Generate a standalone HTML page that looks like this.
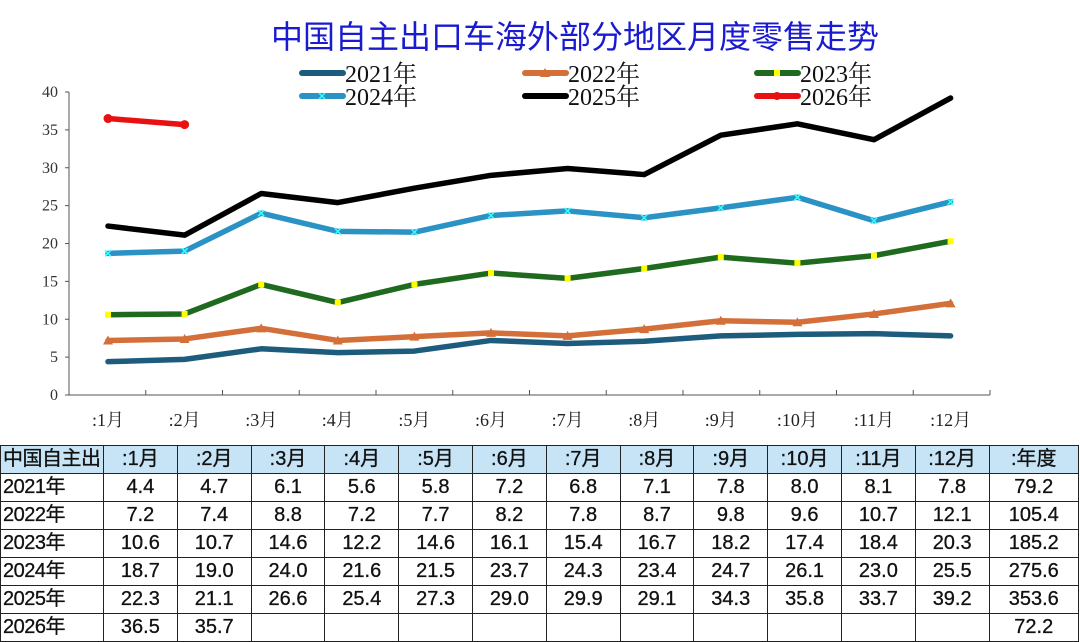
<!DOCTYPE html>
<html><head><meta charset="utf-8"><style>
body{margin:0;background:#fff;width:1080px;height:641px;overflow:hidden;position:relative}
svg{position:absolute;left:0;top:0}
table{position:absolute;left:0;top:445px;width:1078px;table-layout:fixed;border-collapse:collapse;font-family:"Liberation Sans","Noto Sans CJK SC",sans-serif;font-size:20px;color:#111;-webkit-text-stroke:0.3px #111}
td{border:1px solid #222;height:27.9px;padding:0;text-align:center;line-height:27px;box-sizing:border-box;white-space:nowrap;overflow:hidden}
tr.h td{background:#c6e4f6}
td.f{text-align:left;padding-left:2px;letter-spacing:-0.5px}
</style></head><body>
<svg id="s" width="1080" height="445" xmlns="http://www.w3.org/2000/svg"></svg>
<table id="t"></table>
<script>
var d={
"2021":[4.4,4.7,6.1,5.6,5.8,7.2,6.8,7.1,7.8,8.0,8.1,7.8,79.2],
"2022":[7.2,7.4,8.8,7.2,7.7,8.2,7.8,8.7,9.8,9.6,10.7,12.1,105.4],
"2023":[10.6,10.7,14.6,12.2,14.6,16.1,15.4,16.7,18.2,17.4,18.4,20.3,185.2],
"2024":[18.7,19.0,24.0,21.6,21.5,23.7,24.3,23.4,24.7,26.1,23.0,25.5,275.6],
"2025":[22.3,21.1,26.6,25.4,27.3,29.0,29.9,29.1,34.3,35.8,33.7,39.2,353.6],
"2026":[36.5,35.7,null,null,null,null,null,null,null,null,null,null,72.2]};
var col={"2021":"#1d5c7c","2022":"#d46f3a","2023":"#1f6a1f","2024":"#2a92c4","2025":"#000","2026":"#e81010"};
var s='';
var X=function(i){return 108+i*76.6},Y=function(v){return 395-v*7.575};
s+='<text x="575" y="48" text-anchor="middle" font-family="Liberation Sans,Noto Sans CJK SC,sans-serif" font-size="32" fill="#1a1ad0">中国自主出口车海外部分地区月度零售走势</text>';
s+='<line x1="69" y1="92" x2="69" y2="395" stroke="#555"/><line x1="69" y1="395" x2="990" y2="395" stroke="#555"/>';
for(var v=0;v<=40;v+=5){var y=Y(v);s+='<line x1="65" y1="'+y+'" x2="69" y2="'+y+'" stroke="#555"/><text x="58" y="'+(y+5)+'" text-anchor="end" font-family="Liberation Serif,serif" font-size="16" fill="#333">'+v+'</text>';}
for(var i=0;i<12;i++){var x=69+(i+1)*76.75;s+='<line x1="'+x+'" y1="390" x2="'+x+'" y2="395" stroke="#555"/><text x="'+X(i)+'" y="426" text-anchor="middle" font-family="Liberation Serif,Noto Serif CJK SC,serif" font-size="18" fill="#222">:'+(i+1)+'月</text>';}
for(var k in d){var p=[];d[k].slice(0,12).forEach(function(v,i){if(v!=null)p.push(X(i)+','+Y(v))});
s+='<polyline points="'+p.join(' ')+'" fill="none" stroke="'+col[k]+'" stroke-width="5.5" stroke-linejoin="round" stroke-linecap="round"/>';
d[k].slice(0,12).forEach(function(v,i){if(v==null)return;var x=X(i),y=Y(v);
if(k=="2022")s+='<path d="M'+(x-5)+','+(y+4)+' L'+x+','+(y-5)+' L'+(x+5)+','+(y+4)+'Z" fill="'+col[k]+'"/>';
if(k=="2023")s+='<rect x="'+(x-3)+'" y="'+(y-3)+'" width="6" height="6" fill="#ffff00"/>';
if(k=="2024")s+='<path d="M'+(x-3)+','+(y-3)+' L'+(x+3)+','+(y+3)+' M'+(x+3)+','+(y-3)+' L'+(x-3)+','+(y+3)+'" stroke="#3ff" stroke-width="1.5"/>';
if(k=="2026")s+='<circle cx="'+x+'" cy="'+y+'" r="4.5" fill="'+col[k]+'"/>';});}
var L=[["2021",300,73],["2022",523,73],["2023",755,73],["2024",300,96],["2025",523,96],["2026",755,96]];
L.forEach(function(l){var c=col[l[0]];s+='<line x1="'+(l[1]+2)+'" y1="'+l[2]+'" x2="'+(l[1]+43)+'" y2="'+l[2]+'" stroke="'+c+'" stroke-width="6" stroke-linecap="round"/>';
var m=l[1]+22;if(l[0]=="2022")s+='<path d="M'+(m-5)+','+(l[2]+4)+' L'+m+','+(l[2]-5)+' L'+(m+5)+','+(l[2]+4)+'Z" fill="'+c+'"/>';
if(l[0]=="2023")s+='<rect x="'+(m-3)+'" y="'+(l[2]-3)+'" width="6" height="6" fill="#ff0"/>';
if(l[0]=="2024")s+='<path d="M'+(m-3)+','+(l[2]-3)+' L'+(m+3)+','+(l[2]+3)+' M'+(m+3)+','+(l[2]-3)+' L'+(m-3)+','+(l[2]+3)+'" stroke="#3ff" stroke-width="1.5"/>';
if(l[0]=="2026")s+='<circle cx="'+m+'" cy="'+l[2]+'" r="4" fill="'+c+'"/>';
s+='<text x="'+(l[1]+45)+'" y="'+(l[2]+9)+'" font-family="Liberation Serif,Noto Serif CJK SC,serif" font-size="24" fill="#111">'+l[0]+'年</text>';});
document.getElementById('s').innerHTML=s;
var h='<colgroup><col style="width:103px">';for(i=0;i<12;i++)h+='<col style="width:73.8px">';h+='<col style="width:89.4px"></colgroup>';
h+='<tr class="h"><td class="f">中国自主出</td>';
for(i=0;i<12;i++)h+='<td>:'+(i+1)+'月</td>';h+='<td>:年度</td></tr>';
for(k in d){h+='<tr><td class="f">'+k+'年</td>';d[k].forEach(function(v){h+='<td>'+(v==null?'':v.toFixed(1))+'</td>'});h+='</tr>';}
document.getElementById('t').innerHTML=h;
</script>
</body></html>
